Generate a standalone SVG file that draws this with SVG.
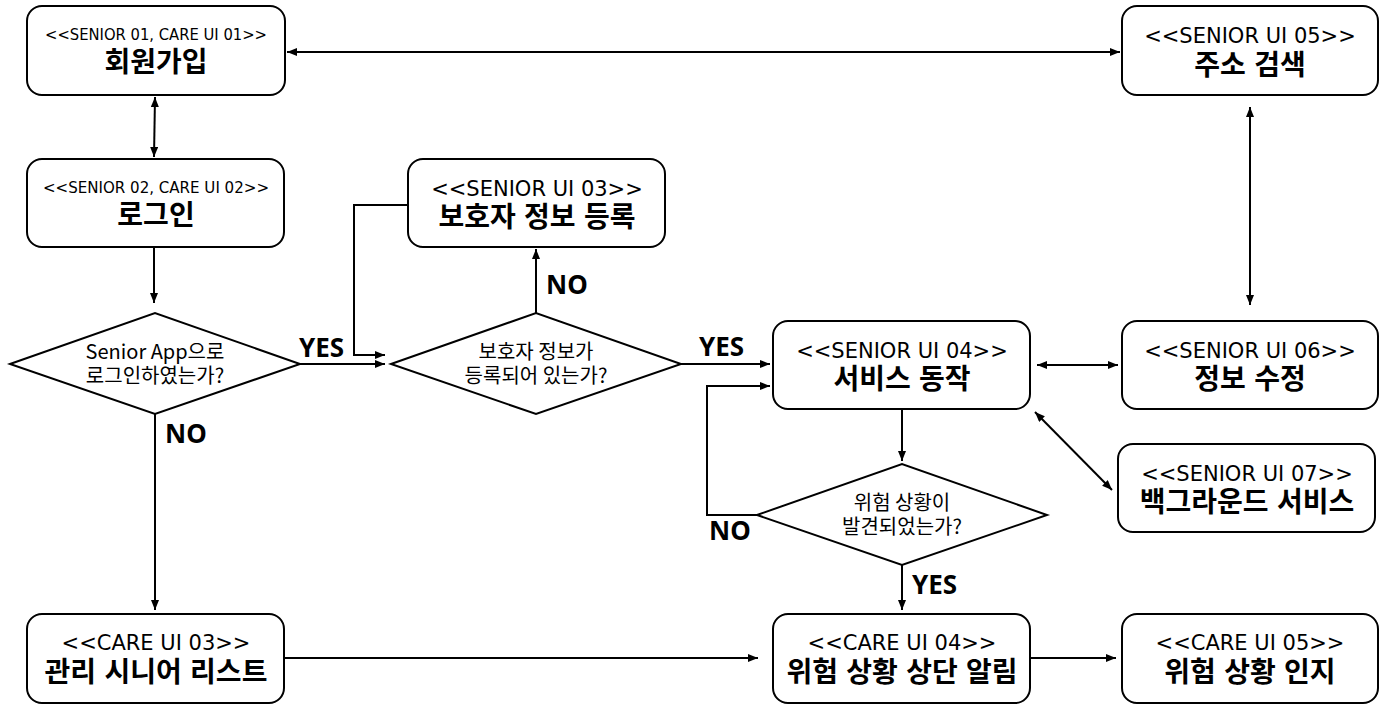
<svg xmlns="http://www.w3.org/2000/svg" width="1384" height="709" viewBox="0 0 1384 709">
<style>
.box{fill:#fff;stroke:#000;stroke-width:2}
.dia{fill:#fff;stroke:#000;stroke-width:2}
.sub{font-family:"DejaVu Sans","Noto Sans CJK KR",sans-serif;font-size:21px;text-anchor:middle;fill:#000}
.sub2{font-family:"DejaVu Sans","Noto Sans CJK KR",sans-serif;font-size:16px;text-anchor:middle;fill:#000}
.ttl{font-family:"Noto Sans CJK KR","Noto Sans",sans-serif;font-size:28px;font-weight:bold;text-anchor:middle;fill:#000;word-spacing:2px}
.q{font-family:"Noto Sans CJK KR","Noto Sans",sans-serif;font-size:20px;text-anchor:middle;fill:#000}
.lbl{font-family:"Noto Sans","Noto Sans CJK KR",sans-serif;font-size:26px;font-weight:bold;fill:#000}
.c{fill:none;stroke:#000;stroke-width:2}
</style>
<defs>
<marker id="ah" markerUnits="userSpaceOnUse" markerWidth="12" markerHeight="10" refX="10" refY="4" orient="auto-start-reverse">
<path d="M0,0 L10,4 L0,8 z" fill="#000"/>
</marker>
</defs>
<rect width="1384" height="709" fill="#fff"/>
<g id="connectors">
<line class="c" x1="287" y1="52" x2="1120" y2="52" marker-start="url(#ah)" marker-end="url(#ah)"/>
<line class="c" x1="155" y1="97" x2="154" y2="157" marker-start="url(#ah)" marker-end="url(#ah)"/>
<line class="c" x1="154" y1="248" x2="154" y2="303" marker-end="url(#ah)"/>
<line class="c" x1="300" y1="364" x2="385" y2="364" marker-end="url(#ah)"/>
<polyline class="c" points="408,205 354,205 354,355 385,355" marker-end="url(#ah)"/>
<line class="c" x1="536" y1="313" x2="536" y2="249" marker-end="url(#ah)"/>
<line class="c" x1="681" y1="364" x2="770" y2="364" marker-end="url(#ah)"/>
<line class="c" x1="155" y1="414" x2="155" y2="610" marker-end="url(#ah)"/>
<line class="c" x1="284" y1="658" x2="758" y2="658" marker-end="url(#ah)"/>
<line class="c" x1="1030" y1="658" x2="1116" y2="658" marker-end="url(#ah)"/>
<line class="c" x1="902" y1="409" x2="902" y2="461" marker-end="url(#ah)"/>
<line class="c" x1="902" y1="565" x2="902" y2="610" marker-end="url(#ah)"/>
<polyline class="c" points="757,515 707,515 707,386 770,386" marker-end="url(#ah)"/>
<line class="c" x1="1037" y1="365" x2="1118" y2="365" marker-start="url(#ah)" marker-end="url(#ah)"/>
<line class="c" x1="1250" y1="107" x2="1250" y2="305" marker-start="url(#ah)" marker-end="url(#ah)"/>
<line class="c" x1="1035" y1="412" x2="1112" y2="490" marker-start="url(#ah)" marker-end="url(#ah)"/>
<text class="lbl" x="299" y="357">YES</text>
<text class="lbl" x="546" y="294">NO</text>
<text class="lbl" x="699" y="356">YES</text>
<text class="lbl" x="165" y="443">NO</text>
<text class="lbl" x="709" y="540">NO</text>
<text class="lbl" x="912" y="594">YES</text>
</g>
<g id="n-signup">
<rect class="box" x="27" y="6" width="258" height="89" rx="15"/>
<text class="sub2" x="156" y="40" textLength="222" lengthAdjust="spacingAndGlyphs">&lt;&lt;SENIOR 01, CARE UI 01&gt;&gt;</text>
<text class="ttl" x="156" y="72">회원가입</text>
</g>
<g id="n-login">
<rect class="box" x="27" y="159" width="257" height="88" rx="15"/>
<text class="sub2" x="156" y="193" textLength="226" lengthAdjust="spacingAndGlyphs">&lt;&lt;SENIOR 02, CARE UI 02&gt;&gt;</text>
<text class="ttl" x="156" y="225">로그인</text>
</g>
<g id="n-guardian">
<rect class="box" x="408" y="159" width="257" height="88" rx="15"/>
<text class="sub" x="537" y="196">&lt;&lt;SENIOR UI 03&gt;&gt;</text>
<text class="ttl" x="537" y="227">보호자 정보 등록</text>
</g>
<g id="n-address">
<rect class="box" x="1122" y="6" width="256" height="89" rx="15"/>
<text class="sub" x="1250" y="43">&lt;&lt;SENIOR UI 05&gt;&gt;</text>
<text class="ttl" x="1250" y="75">주소 검색</text>
</g>
<g id="n-service">
<rect class="box" x="773" y="321" width="257" height="88" rx="15"/>
<text class="sub" x="902" y="358">&lt;&lt;SENIOR UI 04&gt;&gt;</text>
<text class="ttl" x="902" y="389">서비스 동작</text>
</g>
<g id="n-edit">
<rect class="box" x="1122" y="321" width="256" height="88" rx="15"/>
<text class="sub" x="1250" y="358">&lt;&lt;SENIOR UI 06&gt;&gt;</text>
<text class="ttl" x="1250" y="389">정보 수정</text>
</g>
<g id="n-background">
<rect class="box" x="1118" y="444" width="257" height="88" rx="15"/>
<text class="sub" x="1247" y="481">&lt;&lt;SENIOR UI 07&gt;&gt;</text>
<text class="ttl" x="1247" y="512">백그라운드 서비스</text>
</g>
<g id="n-list">
<rect class="box" x="27" y="614" width="257" height="89" rx="15"/>
<text class="sub" x="156" y="650">&lt;&lt;CARE UI 03&gt;&gt;</text>
<text class="ttl" x="156" y="682">관리 시니어 리스트</text>
</g>
<g id="n-alert">
<rect class="box" x="773" y="614" width="257" height="89" rx="15"/>
<text class="sub" x="902" y="650">&lt;&lt;CARE UI 04&gt;&gt;</text>
<text class="ttl" x="902" y="682">위험 상황 상단 알림</text>
</g>
<g id="n-aware">
<rect class="box" x="1122" y="614" width="256" height="89" rx="15"/>
<text class="sub" x="1250" y="650">&lt;&lt;CARE UI 05&gt;&gt;</text>
<text class="ttl" x="1250" y="682">위험 상황 인지</text>
</g>
<g id="d-login">
<polygon class="dia" points="10,364 155,313 300,364 155,414"/>
<text class="q" x="155" y="359">Senior App으로</text>
<text class="q" x="155" y="383">로그인하였는가?</text>
</g>
<g id="d-guardian">
<polygon class="dia" points="391,364 536,313 681,364 536,414"/>
<text class="q" x="536" y="359">보호자 정보가</text>
<text class="q" x="536" y="383">등록되어 있는가?</text>
</g>
<g id="d-danger">
<polygon class="dia" points="757,515 902,464 1047,515 902,565"/>
<text class="q" x="902" y="510">위험 상황이</text>
<text class="q" x="902" y="534">발견되었는가?</text>
</g>
</svg>
